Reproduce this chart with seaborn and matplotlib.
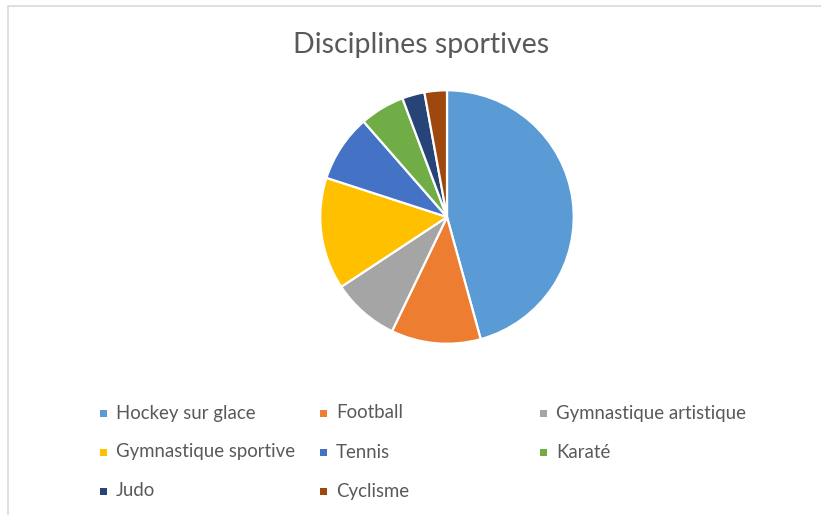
import matplotlib
matplotlib.use("Agg")
import matplotlib.pyplot as plt
import seaborn as sns
from matplotlib.patches import Rectangle

# Data
labels = ["Hockey sur glace", "Football", "Gymnastique artistique",
          "Gymnastique sportive", "Tennis", "Karaté", "Judo", "Cyclisme"]
counts = [16, 4, 3, 5, 3, 2, 1, 1]
colors = ["#5B9BD5", "#ED7D31", "#A5A5A5", "#FFC000",
          "#4472C4", "#70AD47", "#264478", "#9E480E"]
title = "Disciplines sportives"

sns.set_theme(style="white")
plt.rcParams['font.family'] = ['Lato', 'DejaVu Sans']
TEXT_COLOR = '#595959'

W, H = 821, 515
fig = plt.figure(figsize=(W / 100, H / 100), dpi=100)

# light chart-area border (cropped at right and bottom)
fig.add_artist(Rectangle((8 / W, -0.2), 2.0, 1.2 - 6 / H, transform=fig.transFigure,
                         fill=False, edgecolor='#D9D9D9', linewidth=1.2))

# pie centred at (447, 217) px, radius 128 px
cx, cy, r = 447, 217, 128
ax = fig.add_axes([(cx - r) / W, (H - cy - r) / H, 2 * r / W, 2 * r / H])
ax.pie(counts, colors=sns.color_palette(colors), startangle=90, counterclock=False,
       wedgeprops=dict(edgecolor='white', linewidth=1.6))
ax.set_xlim(-1.01, 1.01)
ax.set_ylim(-1.01, 1.01)
ax.set_aspect('equal')
ax.axis('off')

fig.text(421 / W, 1 - 45 / H, title, ha='center', va='center',
         fontsize=20.5, color=TEXT_COLOR)

# legend laid out row by row, three columns
for i, (lab, col) in enumerate(zip(labels, colors)):
    x = 100 + 220 * (i % 3)
    y = 413 + 39 * (i // 3)
    fig.add_artist(Rectangle((x / W, (H - y - 3.5) / H), 7 / W, 7 / H,
                             transform=fig.transFigure, facecolor=col, edgecolor='none'))
    fig.text((x + 16) / W, 1 - y / H, lab, ha='left', va='center',
             fontsize=13.4, color=TEXT_COLOR)

fig.savefig("out.png", dpi=100)
